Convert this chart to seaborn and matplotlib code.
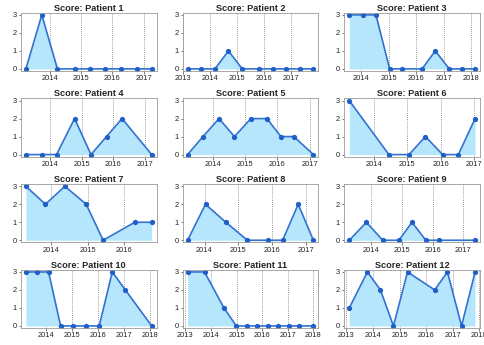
import numpy as np
import pandas as pd
import seaborn as sns
import matplotlib.pyplot as plt

# fechas en años decimales
fechas_p1 = [2013.23, 2013.74, 2014.24, 2014.81, 2015.27, 2015.77, 2016.27, 2016.78, 2017.26]
score_p1 = [0, 3, 0, 0, 0, 0, 0, 0, 0]
fechas_p2 = [2013.16, 2013.66, 2014.17, 2014.67, 2015.18, 2015.80, 2016.30, 2016.81, 2017.33, 2017.81]
score_p2 = [0, 0, 0, 1, 0, 0, 0, 0, 0, 0]
fechas_p3 = [2013.56, 2014.06, 2014.53, 2015.03, 2015.48, 2016.21, 2016.69, 2017.20, 2017.67, 2018.14]
score_p3 = [3, 3, 3, 0, 0, 0, 1, 0, 0, 0]
fechas_p4 = [2013.24, 2013.75, 2014.21, 2014.78, 2015.30, 2015.79, 2016.28, 2017.22]
score_p4 = [0, 0, 0, 2, 0, 1, 2, 0]
fechas_p5 = [2013.20, 2013.68, 2014.18, 2014.66, 2015.17, 2015.67, 2016.11, 2016.51, 2017.12]
score_p5 = [0, 1, 2, 1, 2, 2, 1, 1, 0]
fechas_p6 = [2013.27, 2014.45, 2015.05, 2015.54, 2016.05, 2016.52, 2017.02]
score_p6 = [3, 0, 0, 1, 0, 0, 2]
fechas_p7 = [2013.32, 2013.85, 2014.38, 2014.96, 2015.42, 2016.28, 2016.74]
score_p7 = [3, 2, 3, 2, 0, 1, 1]
fechas_p8 = [2013.50, 2014.03, 2014.63, 2015.27, 2015.88, 2016.31, 2016.77, 2017.22]
score_p8 = [0, 2, 1, 0, 0, 0, 2, 0]
fechas_p9 = [2013.28, 2013.84, 2014.37, 2014.90, 2015.33, 2015.78, 2016.20, 2017.39]
score_p9 = [0, 1, 0, 0, 1, 0, 0, 0]
fechas_p10 = [2013.23, 2013.67, 2014.10, 2014.56, 2015.05, 2015.55, 2016.04, 2016.54, 2017.04, 2018.05]
score_p10 = [3, 3, 3, 0, 0, 0, 0, 3, 2, 0]
fechas_p11 = [2013.09, 2013.75, 2014.51, 2014.99, 2015.40, 2015.78, 2016.22, 2016.63, 2017.05, 2017.43, 2018.00]
score_p11 = [3, 3, 1, 0, 0, 0, 0, 0, 0, 0, 0]
fechas_p12 = [2013.11, 2013.79, 2014.28, 2014.77, 2015.30, 2016.32, 2016.80, 2017.33, 2017.84]
score_p12 = [1, 3, 2, 0, 3, 2, 3, 0, 3]

pacientes = [
    (fechas_p1, score_p1), (fechas_p2, score_p2), (fechas_p3, score_p3),
    (fechas_p4, score_p4), (fechas_p5, score_p5), (fechas_p6, score_p6),
    (fechas_p7, score_p7), (fechas_p8, score_p8), (fechas_p9, score_p9),
    (fechas_p10, score_p10), (fechas_p11, score_p11), (fechas_p12, score_p12),
]

sns.set_style("white")
plt.rcParams['font.family'] = ['Liberation Sans', 'DejaVu Sans']

fig, axes = plt.subplots(4, 3, figsize=(4.85, 3.45), dpi=100)
plt.subplots_adjust(left=0.043, right=0.99, top=0.963, bottom=0.049, wspace=0.19, hspace=0.47)

for i, (ax, (fechas, score)) in enumerate(zip(axes.flat, pacientes)):
    df = pd.DataFrame({"fecha": fechas, "score": score})
    ax.fill_between(df["fecha"], df["score"], 0, color="#b5e6fb", lw=0)
    sns.lineplot(data=df, x="fecha", y="score", ax=ax, color="#3272d0", lw=1.2,
                 marker="o", markersize=3.8, markeredgewidth=0, markerfacecolor="#1f5fc8")
    rango = fechas[-1] - fechas[0]
    x0, x1 = fechas[0] - 0.04 * rango, fechas[-1] + 0.04 * rango
    ax.set_xlim(x0, x1)
    ax.set_ylim(-0.12, 3.12)
    anios = [a for a in range(2012, 2020) if x0 <= a <= x1]
    for a in anios:
        ax.axvline(a, color="#777777", lw=0.6, ls=(0, (1, 1.5)), zorder=0)
    ax.set_xticks(anios)
    ax.set_xticklabels([str(a) for a in anios])
    ax.set_yticks([0, 1, 2, 3])
    ax.tick_params(axis="both", labelsize=5.4, length=1.8, width=0.5, pad=1.2,
                   colors="#444444", labelcolor="#222222", bottom=True, left=True)
    for s in ax.spines.values():
        s.set_color("#9a9a9a")
        s.set_linewidth(0.6)
    ax.set_xlabel("")
    ax.set_ylabel("")
    ax.set_title(f"Score: Patient {i + 1}", fontsize=6.6, fontweight="bold", pad=1.5)

plt.savefig("out.png", dpi=100)
